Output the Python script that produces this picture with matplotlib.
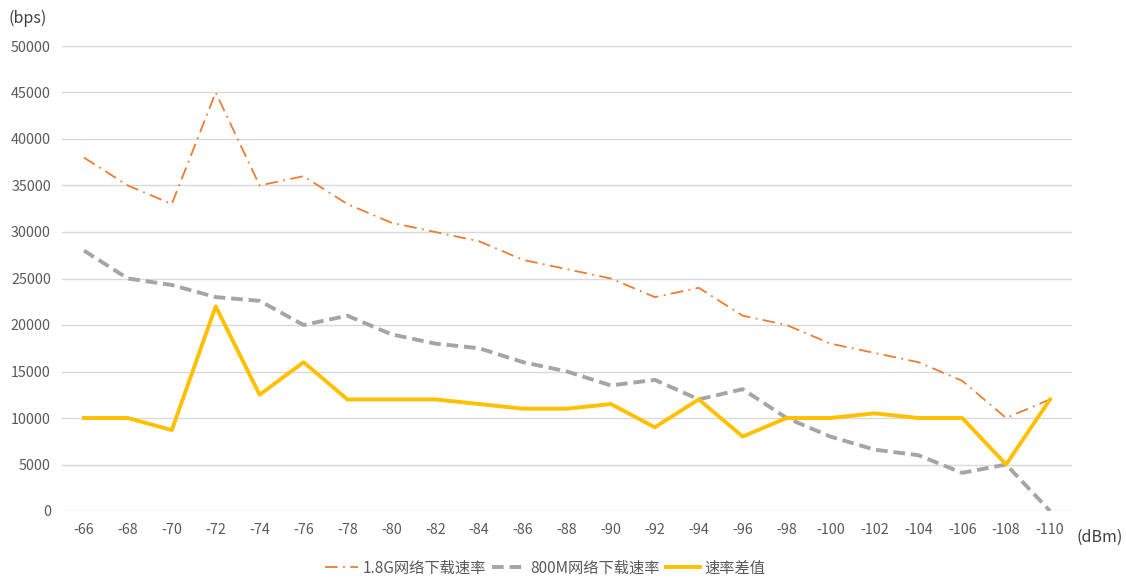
import numpy as np
import matplotlib.pyplot as plt

plt.rcParams['font.family'] = ['Noto Sans CJK SC', 'DejaVu Sans']

rssi = ['-66', '-68', '-70', '-72', '-74', '-76', '-78', '-80', '-82', '-84', '-86', '-88',
        '-90', '-92', '-94', '-96', '-98', '-100', '-102', '-104', '-106', '-108', '-110']
rate_18g = [38000, 35000, 33000, 45000, 35000, 36000, 33000, 31000, 30000, 29000, 27000, 26000,
            25000, 23000, 24000, 21000, 20000, 18000, 17000, 16000, 14000, 10000, 12000]
rate_800m = [28000, 25000, 24300, 23000, 22600, 20000, 21000, 19000, 18000, 17500, 16000, 15000,
             13500, 14100, 12000, 13100, 10000, 8000, 6600, 6000, 4100, 5000, 0]
rate_diff = [10000, 10000, 8700, 22000, 12500, 16000, 12000, 12000, 12000, 11500, 11000, 11000,
             11500, 9000, 12000, 8000, 10000, 10000, 10500, 10000, 10000, 5000, 12000]

fig = plt.figure(figsize=(11.26, 5.78), dpi=100)
ax = fig.add_axes([62 / 1126, 67 / 578, 1010 / 1126, 465 / 578])

x = np.arange(len(rssi))
ax.plot(x, rate_18g, color='#ED7D31', lw=1.3, linestyle=(0, (7, 3, 1, 3)), label='1.8G网络下载速率')
ax.plot(x, rate_800m, color='#A5A5A5', lw=2.8, linestyle=(0, (3, 1.5)), label='800M网络下载速率')
ax.plot(x, rate_diff, color='#FFC000', lw=2.8, label='速率差值')

ax.set_xlim(-0.5, len(rssi) - 0.5)
ax.set_ylim(0, 50000)
ax.set_yticks(np.arange(0, 50001, 5000))
ax.set_xticks(x)
ax.set_xticklabels(rssi)
ax.grid(axis='y', color='#d9d9d9', lw=1)
ax.set_axisbelow(True)
for s in ax.spines.values():
    s.set_visible(False)
ax.tick_params(length=0, labelsize=10.3, labelcolor='#595959', pad=8)
ax.tick_params(axis='x', pad=9)

fig.text(8 / 1126, 1 - 18 / 578, '(bps)', fontsize=11.5, color='#404040', va='center')
fig.text(1076 / 1126, 1 - 537 / 578, '(dBm)', fontsize=11.5, color='#404040', va='center')

fig.legend(loc='center', bbox_to_anchor=(545 / 1126, 1 - 568 / 578), ncol=3, frameon=False,
           fontsize=11, handlelength=2.2, handletextpad=0.3, columnspacing=0.4,
           labelcolor='#595959')

fig.savefig('out.png', dpi=100)
